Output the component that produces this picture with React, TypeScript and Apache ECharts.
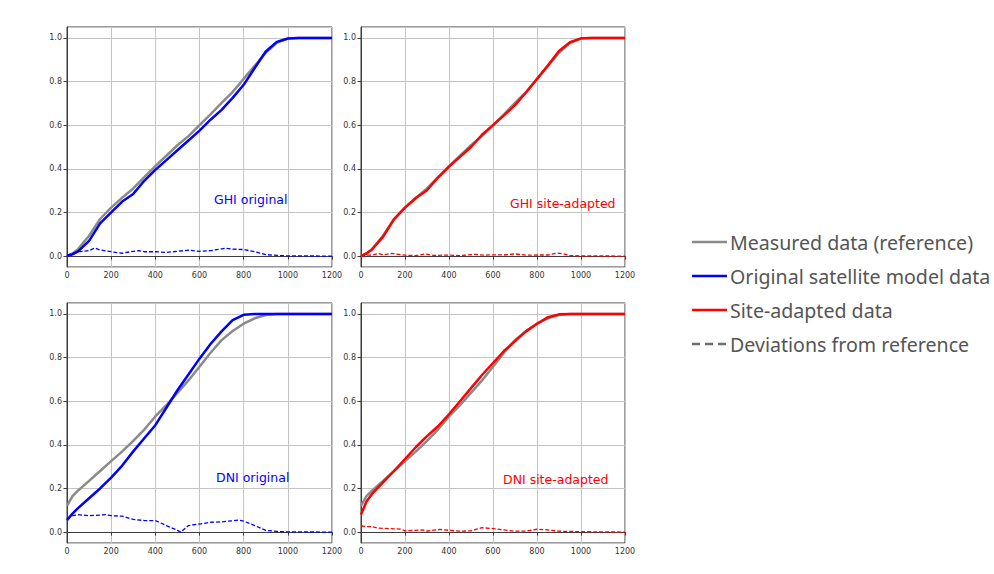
import React, { useEffect, useRef } from "react";
import * as echarts from "echarts";

// Shared x grid for the cumulative curves
const X = [0, 25, 50, 100, 150, 200, 250, 300, 350, 400, 450, 500, 550, 600, 650, 700, 750, 800, 850, 900, 950, 1000, 1050, 1100, 1150, 1200];

// GHI
const ghiMeasured = [0, 0.012, 0.032, 0.093, 0.17, 0.222, 0.268, 0.31, 0.362, 0.412, 0.46, 0.508, 0.55, 0.6, 0.65, 0.702, 0.752, 0.812, 0.872, 0.932, 0.978, 0.997, 1, 1, 1, 1];
const ghiOriginal = [0, 0.008, 0.022, 0.07, 0.15, 0.2, 0.25, 0.285, 0.345, 0.395, 0.44, 0.485, 0.53, 0.575, 0.625, 0.67, 0.725, 0.785, 0.862, 0.938, 0.982, 0.997, 1, 1, 1, 1];
const ghiAdapted = [0, 0.012, 0.03, 0.088, 0.168, 0.222, 0.266, 0.302, 0.36, 0.41, 0.455, 0.5, 0.556, 0.6, 0.645, 0.692, 0.75, 0.812, 0.875, 0.94, 0.98, 0.998, 1, 1, 1, 1];

// DNI
const dniMeasured = [0.12, 0.165, 0.19, 0.235, 0.28, 0.325, 0.37, 0.418, 0.47, 0.53, 0.582, 0.638, 0.695, 0.758, 0.822, 0.88, 0.922, 0.955, 0.98, 0.995, 1, 1, 1, 1, 1, 1];
const dniOriginal = [0.055, 0.085, 0.11, 0.155, 0.2, 0.25, 0.305, 0.37, 0.43, 0.49, 0.57, 0.65, 0.722, 0.795, 0.862, 0.92, 0.972, 0.996, 1, 1, 1, 1, 1, 1, 1, 1];
const dniAdapted = [0.08, 0.14, 0.175, 0.228, 0.28, 0.335, 0.39, 0.44, 0.485, 0.54, 0.6, 0.66, 0.72, 0.775, 0.83, 0.875, 0.92, 0.955, 0.985, 0.998, 1, 1, 1, 1, 1, 1];

// Deviations from the measured reference
const ghiOrigDevX = [0, 50, 100, 125, 150, 200, 250, 300, 325, 350, 400, 450, 500, 550, 600, 650, 700, 720, 750, 800, 850, 900, 950, 1000, 1200];
const ghiOrigDev = [0.005, 0.02, 0.025, 0.037, 0.028, 0.02, 0.013, 0.022, 0.025, 0.02, 0.02, 0.017, 0.022, 0.027, 0.022, 0.025, 0.033, 0.036, 0.032, 0.03, 0.02, 0.007, 0.003, 0.001, 0];
const ghiAdaptDevX = [0, 50, 80, 100, 140, 200, 250, 290, 330, 400, 450, 520, 560, 600, 650, 700, 750, 800, 850, 890, 920, 950, 1000, 1200];
const ghiAdaptDev = [0.003, 0.005, 0.012, 0.006, 0.012, 0.004, 0.002, 0.01, 0.003, 0.005, 0.002, 0.008, 0.004, 0.006, 0.005, 0.01, 0.004, 0.005, 0.005, 0.014, 0.01, 0.002, 0.001, 0];
const dniOrigDevX = [0, 25, 50, 100, 150, 175, 200, 250, 300, 350, 400, 450, 500, 515, 550, 600, 650, 700, 750, 780, 800, 850, 900, 950, 1000, 1200];
const dniOrigDev = [0.06, 0.075, 0.08, 0.075, 0.078, 0.08, 0.075, 0.073, 0.058, 0.053, 0.053, 0.03, 0.008, 0, 0.03, 0.037, 0.045, 0.047, 0.052, 0.055, 0.05, 0.03, 0.008, 0.003, 0.001, 0];
const dniAdaptDevX = [0, 25, 50, 75, 150, 180, 200, 250, 280, 300, 360, 400, 450, 500, 550, 600, 650, 700, 750, 800, 850, 900, 1000, 1200];
const dniAdaptDev = [0.028, 0.025, 0.025, 0.018, 0.015, 0.014, 0.006, 0.008, 0.01, 0.005, 0.012, 0.008, 0.004, 0.006, 0.02, 0.016, 0.01, 0.004, 0.004, 0.013, 0.01, 0.004, 0.002, 0];

const legendLabels = ["Measured data (reference)", "Original satellite model data", "Site-adapted data", "Deviations from reference"];
const panelLabels = ["GHI original", "GHI site-adapted", "DNI original", "DNI site-adapted"];

const GRAY = "#8a8a8a";
const BLUE = "#0000ff";
const RED = "#ff0000";

const pairs = (xs: number[], ys: number[]) => xs.map((x, i) => [x, ys[i]]);

export default function App() {
  const ref = useRef<HTMLDivElement>(null);

  useEffect(() => {
    if (!ref.current) return;
    const chart = echarts.init(ref.current, null, { renderer: "svg" });

    const grids = [
      { left: 67, top: 27, width: 265, height: 240 },
      { left: 361, top: 27, width: 264, height: 240 },
      { left: 67, top: 303, width: 265, height: 240 },
      { left: 361, top: 303, width: 264, height: 240 },
    ].map((g) => ({ ...g, show: true, borderColor: "#3c3c3c", borderWidth: 1, backgroundColor: "transparent" }));

    const tickLabel = { fontSize: 8, color: "#333", fontFamily: "DejaVu Sans" };

    const xAxes = grids.map((_, i) => ({
      type: "value",
      gridIndex: i,
      min: 0,
      max: 1200,
      interval: 200,
      axisLine: { show: true, lineStyle: { color: "#3c3c3c" } },
      axisTick: { show: true, inside: false, length: 3.5, lineStyle: { color: "#3c3c3c" } },
      axisLabel: { ...tickLabel, margin: 4, formatter: (v: number) => String(Math.round(v)) },
      splitLine: { show: true, lineStyle: { color: "#c4c4c4", width: 1 } },
    }));

    const yAxes = grids.map((_, i) => ({
      type: "value",
      gridIndex: i,
      min: -0.05,
      max: 1.05,
      splitNumber: 5,
      axisLine: { show: true, lineStyle: { color: "#3c3c3c" } },
      axisTick: { show: true, inside: false, length: 3.5, lineStyle: { color: "#3c3c3c" } },
      axisLabel: {
        ...tickLabel,
        margin: 5,
        showMinLabel: false,
        showMaxLabel: false,
        formatter: (v: number) => (Math.abs(v * 5 - Math.round(v * 5)) < 1e-6 ? v.toFixed(1) : ""),
      },
      splitLine: { show: true, lineStyle: { color: "#c4c4c4", width: 1 } },
    }));

    const solid = (name: string, idx: number, data: number[][], color: string) => ({
      name,
      type: "line",
      xAxisIndex: idx,
      yAxisIndex: idx,
      data,
      showSymbol: false,
      symbol: "none",
      lineStyle: { color, width: 2.5 },
      z: color === GRAY ? 2 : 3,
    });
    const dashed = (name: string, idx: number, data: number[][], color: string) => ({
      name,
      type: "line",
      xAxisIndex: idx,
      yAxisIndex: idx,
      data,
      showSymbol: false,
      symbol: "none",
      lineStyle: { color, width: 1.3, type: [4, 2] },
      z: 3,
    });

    const series = [
      solid(legendLabels[0], 0, pairs(X, ghiMeasured), GRAY),
      solid(legendLabels[1], 0, pairs(X, ghiOriginal), BLUE),
      dashed(legendLabels[3], 0, pairs(ghiOrigDevX, ghiOrigDev), BLUE),
      solid(legendLabels[0], 1, pairs(X, ghiMeasured), GRAY),
      solid(legendLabels[2], 1, pairs(X, ghiAdapted), RED),
      dashed(legendLabels[3], 1, pairs(ghiAdaptDevX, ghiAdaptDev), RED),
      solid(legendLabels[0], 2, pairs(X, dniMeasured), GRAY),
      solid(legendLabels[1], 2, pairs(X, dniOriginal), BLUE),
      dashed(legendLabels[3], 2, pairs(dniOrigDevX, dniOrigDev), BLUE),
      solid(legendLabels[0], 3, pairs(X, dniMeasured), GRAY),
      solid(legendLabels[2], 3, pairs(X, dniAdapted), RED),
      dashed(legendLabels[3], 3, pairs(dniAdaptDevX, dniAdaptDev), RED),
    ];

    const panelText = (text: string, x: number, y: number, color: string) => ({
      type: "text",
      x,
      y,
      style: { text, fill: color, fontSize: 12.5, fontFamily: "DejaVu Sans", textVerticalAlign: "middle" },
      z: 10,
    });

    const legendColors = [GRAY, BLUE, RED, "#6e6e6e"];
    const legendRows = [242, 276, 310, 344];
    const legendItems: any[] = [];
    legendLabels.forEach((label, i) => {
      legendItems.push({
        type: "line",
        shape: { x1: 692, y1: legendRows[i], x2: 727, y2: legendRows[i] },
        style: { stroke: legendColors[i], lineWidth: 2.5, lineDash: i === 3 ? [8, 5] : null },
      });
      legendItems.push({
        type: "text",
        x: 730,
        y: legendRows[i],
        style: { text: label, fill: "#555", fontSize: 19.6, fontFamily: "Noto Sans", textVerticalAlign: "middle" },
      });
    });

    chart.setOption({
      animation: false,
      backgroundColor: "#fff",
      grid: grids,
      xAxis: xAxes,
      yAxis: yAxes,
      series,
      graphic: [
        panelText(panelLabels[0], 214, 199, BLUE),
        panelText(panelLabels[1], 510, 203, RED),
        panelText(panelLabels[2], 216, 477, BLUE),
        panelText(panelLabels[3], 503, 479, RED),
        ...legendItems,
      ],
    });

    return () => chart.dispose();
  }, []);

  return <div ref={ref} style={{ width: 994, height: 574, position: "absolute", left: 0, top: 0 }} />;
}
